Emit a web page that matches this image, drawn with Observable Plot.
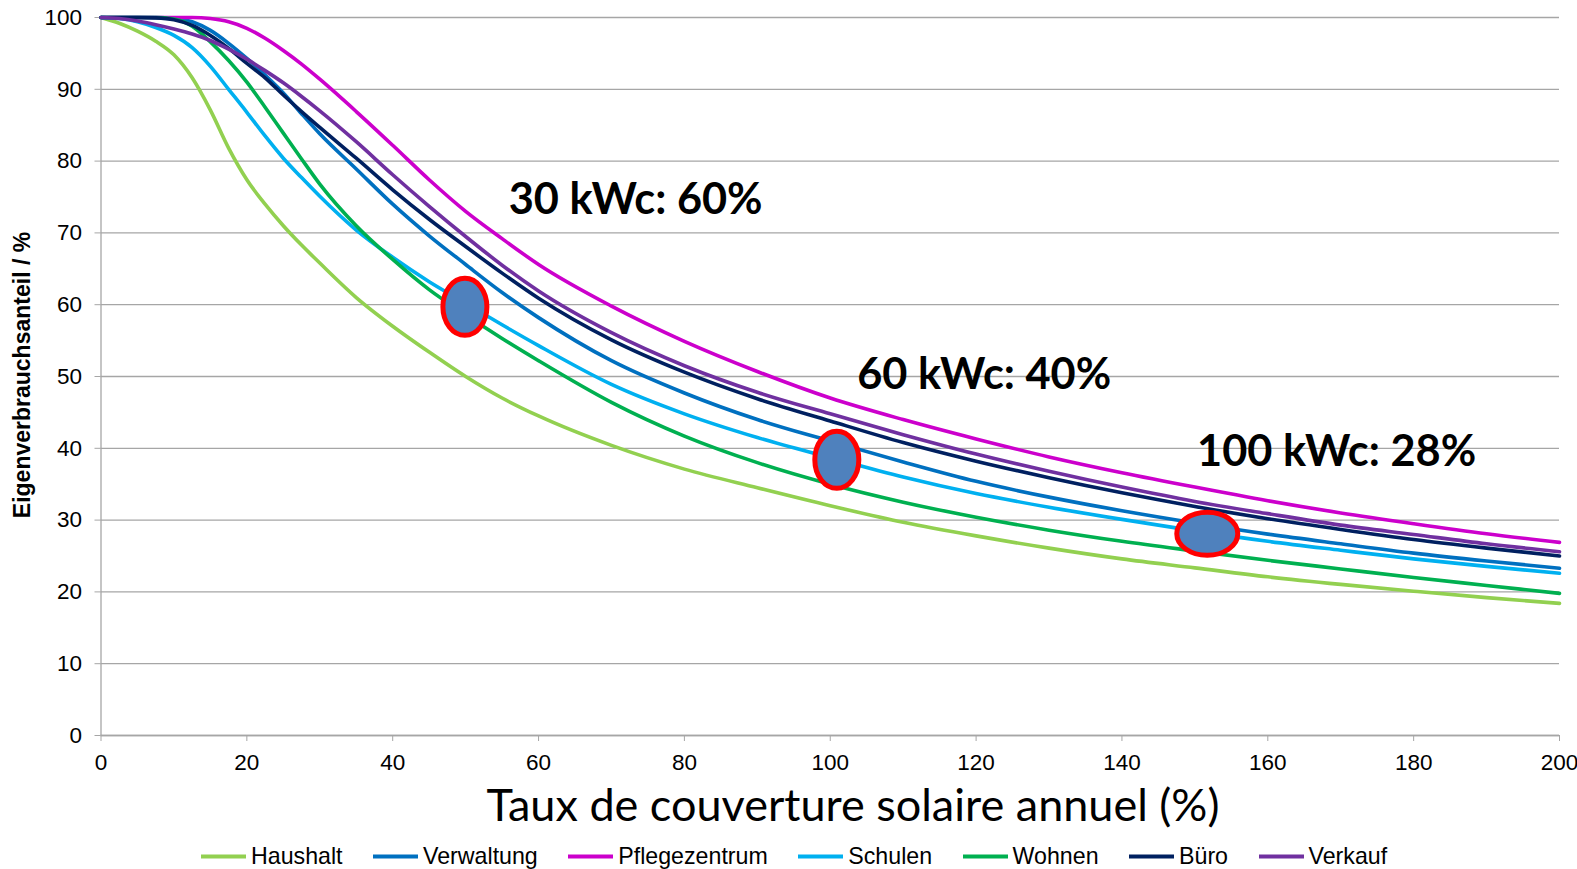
<!DOCTYPE html>
<html>
<head>
<meta charset="utf-8">
<script src="https://cdn.jsdelivr.net/npm/d3@7"></script>
<script src="https://cdn.jsdelivr.net/npm/@observablehq/plot@0.6"></script>
<style>
  html, body { margin: 0; padding: 0; background: #fff; overflow: hidden; }
  #wrap { position: relative; width: 1577px; height: 869px; background: #fff; }
  #plot svg { display: block; overflow: hidden; }
  #ytitle { position: absolute; left: 22px; top: 375px; transform: translate(-50%, -50%) rotate(-90deg);
            white-space: nowrap; font: bold 23px "Liberation Sans", Arial, sans-serif; color: #000; }
  #xtitle { position: absolute; left: 853px; top: 804px; transform: translate(-50%, -50%);
            white-space: nowrap; font: 45px Lato, "Open Sans", sans-serif; color: #000; }
  #legend { position: absolute; left: 201px; top: 856px; transform: translateY(-50%); display: flex; gap: 30.5px;
            font: 23.2px "Liberation Sans", Arial, sans-serif; color: #000; white-space: nowrap; }
  #legend .item { display: flex; align-items: center; }
  #legend .sw { width: 45px; height: 4px; margin-right: 5px; }
</style>
</head>
<body>
<div id="wrap">
  <div id="plot"></div>
  <div id="ytitle"></div>
  <div id="xtitle"></div>
  <div id="legend"></div>
</div>
<script>
// ---- data ----
const xValues = [0,2.5,5,7.5,10,12.5,15,17.5,20,22.5,25,27.5,30,35,40,45,50,55,60,70,80,90,100,110,120,130,140,150,160,170,180,190,200];
const haushalt      = [100,99.2,98.1,96.7,94.8,91.6,87.1,81.8,77.4,74.0,71.0,68.3,65.8,61.0,57.0,53.4,50.0,47.0,44.5,40.4,37.1,34.5,32.0,29.7,27.8,26.1,24.6,23.35,22.1,21.05,20.1,19.2,18.4];
const verwaltung    = [100,100,100,100,99.9,99.4,98.2,96.4,94.3,92.0,89.5,86.6,83.8,78.9,74.0,69.6,65.6,61.7,58.2,52.2,47.7,44.0,41.0,38.1,35.4,33.2,31.3,29.6,28.05,26.7,25.4,24.3,23.3];
const pflegezentrum = [100,100,100,100,100,100,99.85,99.4,98.5,97.1,95.4,93.5,91.4,86.9,82.2,77.4,73.0,69.2,65.6,59.8,54.9,50.7,47.0,44.0,41.3,38.8,36.6,34.6,32.7,31.0,29.5,28.1,26.9];
const schulen       = [100,99.85,99.4,98.6,97.5,95.8,93.2,90.0,86.8,83.5,80.4,77.7,75.1,70.4,66.6,63.2,60.2,57.2,54.3,48.9,44.8,41.5,38.7,36.0,33.7,31.8,30.1,28.5,27.05,25.8,24.6,23.55,22.6];
const wohnen        = [100,100,100,100,99.8,98.8,96.6,94.0,91.0,87.5,83.9,80.3,76.8,71.0,66.3,62.1,58.6,55.3,52.2,46.4,41.7,38.0,35.0,32.5,30.4,28.6,27.05,25.7,24.4,23.2,22.0,20.9,19.8];
const buero         = [100,100,100,99.95,99.7,98.9,97.5,95.7,93.6,91.6,89.2,86.9,84.7,80.4,76.0,71.9,68.1,64.4,60.9,55.1,50.6,46.9,43.8,40.8,38.2,35.9,33.8,31.9,30.2,28.7,27.3,26.1,25.0];
const verkauf       = [100,99.85,99.5,99.0,98.4,97.7,96.8,95.6,94.2,92.6,90.9,89.0,87.0,82.7,78.1,73.7,69.5,65.5,61.9,56.1,51.5,47.8,44.8,41.9,39.2,36.8,34.6,32.6,30.9,29.3,28.0,26.7,25.6];

const seriesNames  = ["Haushalt","Verwaltung","Pflegezentrum","Schulen","Wohnen","Büro","Verkauf"];
const seriesValues = [haushalt, verwaltung, pflegezentrum, schulen, wohnen, buero, verkauf];
const seriesColors = ["#92D050","#0070C0","#CC00CC","#00B0F0","#00B050","#002060","#7030A0"];

const xTicks = [0,20,40,60,80,100,120,140,160,180,200];
const yTicks = [0,10,20,30,40,50,60,70,80,90,100];

const spots = [
  {x: 49.9,  y: 59.7, shape: "tall"},
  {x: 100.9, y: 38.4, shape: "tall"},
  {x: 151.7, y: 28.1, shape: "wide"}
];
const annotations = [
  {x: 55.9,  y: 72.6, text: "30 kWc: 60%"},
  {x: 103.7, y: 48.3, text: "60 kWc: 40%"},
  {x: 150.3, y: 37.5, text: "100 kWc: 28%"}
];

const xTitle = "Taux de couverture solaire annuel (%)";
const yTitle = "Eigenverbrauchsanteil / %";

// ---- build ----
const rows = [];
seriesNames.forEach((name, i) => {
  xValues.forEach((x, j) => rows.push({series: name, x, y: seriesValues[i][j]}));
});

function ellipseSymbol(rx, ry) {
  const k = 0.5522847498;
  return {
    draw(ctx) {
      ctx.moveTo(rx, 0);
      ctx.bezierCurveTo(rx, ry * k, rx * k, ry, 0, ry);
      ctx.bezierCurveTo(-rx * k, ry, -rx, ry * k, -rx, 0);
      ctx.bezierCurveTo(-rx, -ry * k, -rx * k, -ry, 0, -ry);
      ctx.bezierCurveTo(rx * k, -ry, rx, -ry * k, rx, 0);
      ctx.closePath();
    }
  };
}
const tallSym = ellipseSymbol(22, 28.5);
const wideSym = ellipseSymbol(30.5, 21.5);

const gridColor = "#A6A6A6";

const chart = Plot.plot({
  width: 1577,
  height: 782,
  marginLeft: 100.5,
  marginRight: 18,
  marginTop: 17,
  marginBottom: 47,
  style: {fontFamily: "'Liberation Sans', Arial, sans-serif", fontSize: "22px", color: "#000", background: "#fff", overflow: "hidden"},
  x: {domain: [0, 200]},
  y: {domain: [0, 100]},
  color: {domain: seriesNames, range: seriesColors},
  marks: [
    Plot.gridY(yTicks, {stroke: gridColor, strokeOpacity: 1, strokeWidth: 1.3}),
    Plot.ruleX([0], {stroke: gridColor, strokeWidth: 1.3}),
    Plot.ruleY([0], {stroke: gridColor, strokeWidth: 1.3}),
    Plot.axisY({ticks: yTicks, tickSize: 6, tickPadding: 13, stroke: gridColor, fill: "#000", fontSize: 22.5, label: null}),
    Plot.axisX({ticks: xTicks, tickSize: 6, tickPadding: 13, stroke: gridColor, fill: "#000", fontSize: 22.5, label: null, tickFormat: d => String(d)}),
    Plot.line(rows, {x: "x", y: "y", z: "series", stroke: "series", strokeWidth: 3.6, curve: "monotone-x"}),
    Plot.dot(spots.filter(d => d.shape === "tall"), {x: "x", y: "y", symbol: tallSym, fill: "#4F81BD", stroke: "#FF0000", strokeWidth: 5}),
    Plot.dot(spots.filter(d => d.shape === "wide"), {x: "x", y: "y", symbol: wideSym, fill: "#4F81BD", stroke: "#FF0000", strokeWidth: 5}),
    Plot.text(annotations, {x: "x", y: "y", text: "text", textAnchor: "start", lineAnchor: "bottom",
      fontFamily: "Lato, 'Open Sans', sans-serif", fontWeight: "bold", fontSize: 43.3, fill: "#000"})
  ]
});
document.getElementById("plot").appendChild(chart);

document.getElementById("ytitle").textContent = yTitle;
document.getElementById("xtitle").textContent = xTitle;

const legend = document.getElementById("legend");
seriesNames.forEach((name, i) => {
  const item = document.createElement("div");
  item.className = "item";
  const sw = document.createElement("span");
  sw.className = "sw";
  sw.style.background = seriesColors[i];
  const lab = document.createElement("span");
  lab.textContent = name;
  item.appendChild(sw);
  item.appendChild(lab);
  legend.appendChild(item);
});
</script>
</body>
</html>
